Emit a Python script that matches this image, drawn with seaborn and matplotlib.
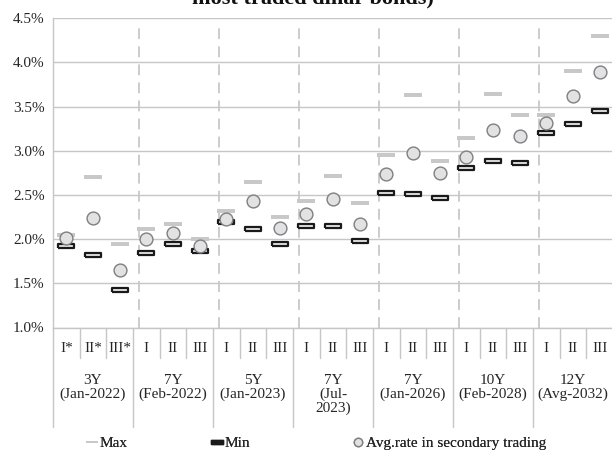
import numpy as np
import pandas as pd
import matplotlib
matplotlib.use("Agg")
import matplotlib.pyplot as plt
from matplotlib.lines import Line2D
import seaborn as sns

# data (percent)
issues = ["I*", "II*", "III*"] + ["I", "II", "III"] * 6
groups = ["3Y\n(Jan-2022)", "7Y\n(Feb-2022)", "5Y\n(Jan-2023)", "7Y\n(Jul-\n2023)",
          "7Y\n(Jan-2026)", "10Y\n(Feb-2028)", "12Y\n(Avg-2032)"]
max_rate = [2.05, 2.70, 1.94, 2.11, 2.17, 2.00, 2.32, 2.65, 2.25, 2.43, 2.72, 2.41,
            2.95, 3.63, 2.88, 3.14, 3.64, 3.41, 3.41, 3.90, 4.30]
min_rate = [1.92, 1.82, 1.42, 1.84, 1.95, 1.87, 2.19, 2.12, 1.95, 2.15, 2.15, 1.98,
            2.52, 2.51, 2.47, 2.80, 2.88, 2.86, 3.20, 3.30, 3.45]
avg_rate = [2.01, 2.24, 1.65, 2.00, 2.07, 1.92, 2.23, 2.43, 2.13, 2.29, 2.45, 2.17,
            2.74, 2.97, 2.75, 2.93, 3.23, 3.17, 3.32, 3.62, 3.89]

df = pd.DataFrame({"pos": np.arange(len(issues)), "issue": issues,
                   "Max": max_rate, "Min": min_rate, "Avg": avg_rate})

sns.set_style("white")
plt.rcParams["font.family"] = ["Liberation Serif", "DejaVu Serif"]
txt = "#262626"
grid_c = "#c6c6c6"

fig = plt.figure(figsize=(6.12, 4.54), dpi=100)
ax = fig.add_axes([53 / 612, 126.5 / 454, 560 / 612, 309.2 / 454])

# marker shapes
max_mark = [(-1, -0.2), (1, -0.2), (1, 0.2), (-1, 0.2), (-1, -0.2)]
min_mark = [(-1, -0.3), (1, -0.3), (1, 0.3), (-1, 0.3), (-1, -0.3)]

sns.scatterplot(data=df, x="pos", y="Max", marker=max_mark, s=150, color="#c8c8c8",
                linewidth=0, ax=ax, zorder=3)
sns.scatterplot(data=df, x="pos", y="Min", marker=min_mark, s=135, color="#ececec",
                edgecolor="#1a1a1a", linewidth=1.6, ax=ax, zorder=4)
sns.scatterplot(data=df, x="pos", y="Avg", marker="o", s=85, color="#e2e2e4",
                edgecolor="#7f7f7f", linewidth=1.0, ax=ax, zorder=5)

ax.set_xlim(-0.5, len(issues) - 0.5)
ax.set_ylim(1.0, 4.5)
ax.set_yticks(np.arange(1.0, 4.51, 0.5))
ax.set_yticklabels([f"{v:.1f}%" for v in np.arange(1.0, 4.51, 0.5)], fontsize=11, color=txt)
ax.yaxis.grid(True, color=grid_c, linewidth=1.0)
ax.set_axisbelow(True)
ax.tick_params(axis="y", length=0, pad=6)
ax.set_xticks([])
ax.set_xlabel("")
ax.set_ylabel("")
for s in ["top", "right"]:
    ax.spines[s].set_visible(False)
ax.spines["left"].set_color(grid_c)
ax.spines["bottom"].set_color(grid_c)
ax.spines["left"].set_linewidth(1.0)
ax.spines["bottom"].set_linewidth(1.0)

# dashed group dividers
for g in range(1, len(groups)):
    ax.plot([3 * g - 0.5 + 0.22] * 2, [1.0, 4.45], color="#c8c8c8", linewidth=1.3,
            dashes=(6, 4), zorder=1)

# category axis labels
xt = ax.get_xaxis_transform()
for i, lab in enumerate(issues):
    ax.text(i, -0.068, lab, transform=xt, ha="center", va="center", fontsize=11, color=txt)
for i in range(1, len(issues)):
    ylo = -0.322 if i % 3 == 0 else -0.0986
    ax.plot([i - 0.5, i - 0.5], [0, ylo], transform=xt, color=grid_c, linewidth=1.0,
            clip_on=False)
ax.plot([-0.5, -0.5], [0, -0.322], transform=xt, color=grid_c, linewidth=1.0, clip_on=False)
for g, lab in enumerate(groups):
    ax.text(3 * g + 1, -0.152, lab, transform=xt, ha="center", va="top", fontsize=11,
            color=txt, linespacing=1.05)

# title (cut off at the top in the source)
fig.text(0.512, 0.993, "most traded dinar bonds)", ha="center", va="baseline",
         fontsize=16, fontweight="bold", color="#111111")

handles = [
    Line2D([], [], marker=max_mark, markersize=8, color="#c8c8c8", markeredgewidth=0,
           linestyle=""),
    Line2D([], [], marker=min_mark, markersize=9, markerfacecolor="#1a1a1a",
           markeredgecolor="#1a1a1a", linestyle=""),
    Line2D([], [], marker="o", markersize=6, markerfacecolor="#e2e2e4",
           markeredgecolor="#7f7f7f", linestyle=""),
]
labels = ["Max", "Min", "Avg.rate in secondary trading"]
lefts = [80, 205, 346]
for h, lab, x0 in zip(handles, labels, lefts):
    leg = fig.legend([h], [lab], loc="center left", bbox_to_anchor=(x0 / 612, 0.024),
                     frameon=False, fontsize=11, handlelength=0.8, handletextpad=0.1,
                     borderaxespad=0, labelcolor=txt)
    fig.add_artist(leg)

fig.savefig("out.png", dpi=100)
